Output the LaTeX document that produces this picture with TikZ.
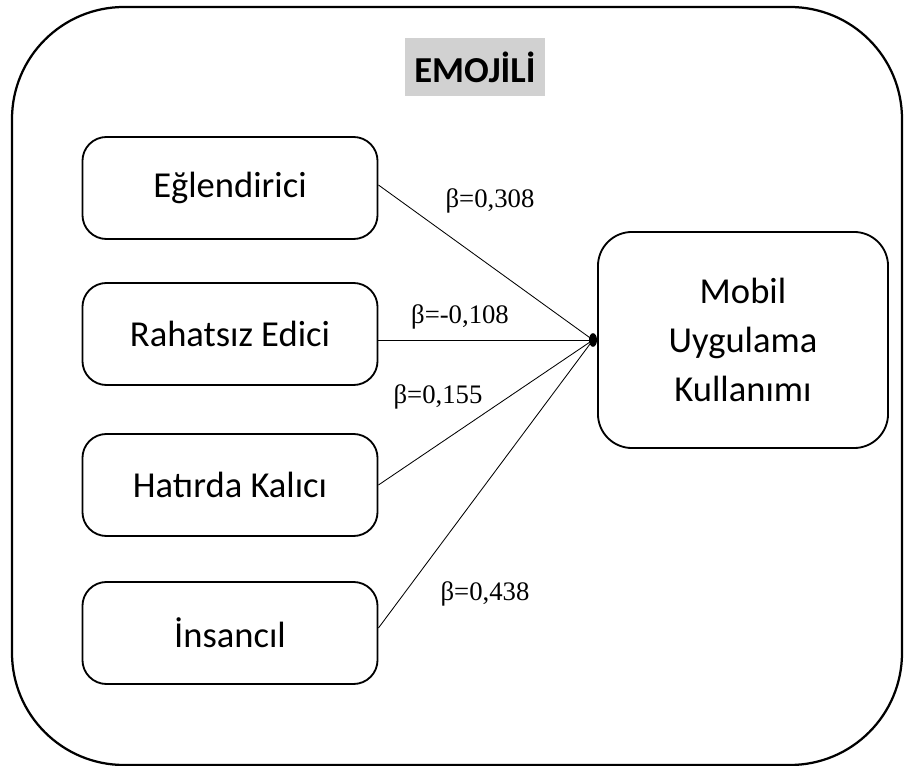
\documentclass[tikz,border=0pt]{standalone}
\usepackage{fontspec}
\setmainfont{Carlito}
\newfontfamily\betafont{Liberation Serif}
\usetikzlibrary{positioning}
\tikzset{
    factor/.style={draw, line width=1.3pt, rounded corners=0.6cm,
        minimum width=7.375cm, minimum height=2.55cm,
        font=\fontsize{26}{32}\selectfont},
    coef/.style={font=\betafont\fontsize{19}{21}\selectfont, inner sep=0pt},
    link/.style={line width=0.6pt}
}
\begin{document}
\begin{tikzpicture}[x=0.025cm, y=-0.025cm]
    \useasboundingbox (0,0) rectangle (904,766);

    % frame
    \draw[line width=1.6pt, rounded corners=2.8cm] (12,7) rectangle (902,765);

    % title
    \node[fill=black!18, font=\bfseries\fontsize{26}{30}\selectfont,
        minimum width=3.5cm, minimum height=1.45cm] (title) at (475,67) {EMOJİLİ};

    % outcome
    \node[factor, minimum width=7.25cm, minimum height=5.4cm, rounded corners=0.85cm,
        align=center, font=\fontsize{26}{35}\selectfont] (mobil) at (743,340)
        {Mobil\\Uygulama\\Kullanımı};
    \coordinate (hub) at (593,340);

    % factors
    \foreach \name/\txt/\yy/\val/\lx/\ly in {
        eglen/Eğlendirici/188/{0,308}/490/201,
        rahat/Rahatsız Edici/334/{-0,108}/460/317,
        hatir/Hatırda Kalıcı/485/{0,155}/438/397,
        insan/İnsancıl/633/{0,438}/485/594}{
        \node[factor] (\name) at (230,\yy) {\txt};
        \node[coef] (\name-b) at (\lx,\ly) {β=\val};
    }

    \draw[link] (eglen.east) ++(0,-3) -- (hub);
    \draw[link] (rahat.east |- hub) -- (hub);
    \draw[link] (hatir.east) -- (hub);
    \draw[link] (insan.east) ++(0,-5) -- (hub);

    \fill (hub) ellipse [x radius=0.1cm, y radius=0.17cm];
\end{tikzpicture}
\end{document}
